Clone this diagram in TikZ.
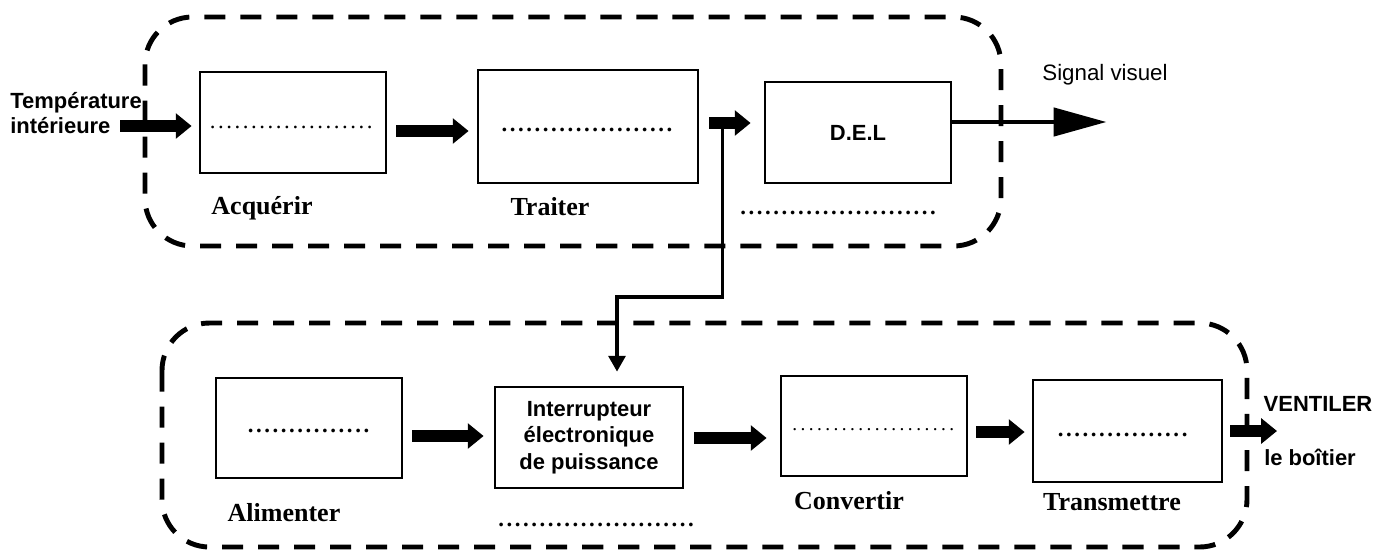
\documentclass[tikz,border=0pt]{standalone}
\usepackage{fontspec}
\setmainfont{Liberation Sans}
\newfontfamily\tnr{Liberation Serif}
\usetikzlibrary{arrows.meta,calc,positioning}
\newcommand\pointilles[1]{\hbox to #1{\leaders\hbox to 4.7pt{\hss.\hss}\hfill}}

\tikzset{
	bloc/.style={draw,line width=1.6pt,inner sep=0pt,minimum width=3.72cm,minimum height=2.02cm,
	font=\bfseries\fontsize{12.5}{15}\selectfont,align=center},
	flux/.style={line width=6.8pt,-{Triangle[length=9pt,width=14pt]}},
	cadre/.style={line width=2.8pt,dash pattern=on 12pt off 8.5pt,rounded corners=0.95cm},
	fonction/.style={font=\tnr\bfseries\fontsize{14.8}{17}\selectfont},
	pts/.style={font=\tnr\fontsize{13}{15}\selectfont,inner sep=0pt},
	etiq/.style={font=\bfseries\fontsize{12.5}{14.7}\selectfont,align=left,inner sep=0pt}
}

\begin{document}
\begin{tikzpicture}[x=0.02cm,y=-0.02cm]
	\useasboundingbox (0,0) rectangle (1391,549);
	% cadres
	\draw[cadre] (145,17) rectangle (1001,246);
	\draw[cadre] (162,323) rectangle (1247,547);
	% chaine du haut
	\node[bloc] (acq) at (293,122.5) {};
	\node[bloc,minimum width=4.4cm,minimum height=2.26cm] (trt) at (588,126.5) {};
	\node[bloc] (del) at (858,132.5) {D.E.L};
	\node[pts] (acqdots) at (293,127) {\pointilles{96pt}};
	\node[pts] (trtdots) at (589,130) {\bfseries\pointilles{101pt}};
	\node[pts] (deldots) at (840,213) {\bfseries\pointilles{115pt}};
	\node[fonction] (lacq) at (262,208) {Acquérir};
	\node[fonction] (ltrt) at (550,207) {Traiter};
	\node[etiq,anchor=west] (tint) at (10,113) {Température\\intérieure};
	\node[font=\fontsize{12.7}{15}\selectfont] (sig) at (1105,75) {Signal visuel};
	\coordinate (in) at (120,126);
	\draw[flux] (in) -- ($(acq.west)+(-7,3.5)$);
	\draw[flux] ($(acq.east)+(9,8.5)$) coordinate (a1) -- (a1 -| {$(trt.west)+(-8,0)$});
	\draw[flux] ($(trt.east)+(10,-3.5)$) coordinate (a2) -- (a2 -| {$(del.west)+(-13,0)$});
	\coordinate (br) at ($(a2)+(13,0)$);
	\draw[line width=2.3pt,-{Triangle[length=30pt,width=16pt]}] ($(del.east)+(0,-10.5)$) -- ++(154,0);
	% chaine du bas
	\node[bloc,minimum height=2cm] (ali) at (309,428) {};
	\node[bloc,minimum width=3.76cm] (itr) at (589,437.5) {Interrupteur\\électronique\\de puissance};
	\node[bloc,minimum height=2cm] (cnv) at (874,426) {};
	\node[bloc,minimum width=3.78cm,minimum height=2.04cm] (trm) at (1127.5,431) {};
	\node[pts] (alidots) at (309,431) {\bfseries\pointilles{71pt}};
	\node[pts] (itrdots) at (598,525) {\bfseries\pointilles{115pt}};
	\node[pts,font=\tnr\fontsize{11}{13}\selectfont] (cnvdots) at (875,430) {\pointilles{96pt}};
	\node[pts] (trmdots) at (1126,435) {\bfseries\pointilles{79pt}};
	\node[fonction] (lali) at (284,513) {Alimenter};
	\node[fonction] (lcnv) at (849,501) {Convertir};
	\node[fonction] (ltrm) at (1112,502) {Transmettre};
	\node[etiq] (vent) at (1318,404) {VENTILER};
	\node[etiq] (boit) at (1310,457) {le boîtier};
	\coordinate (out) at (1277,431);
	\draw[flux] ($(ali.east)+(9,8)$) coordinate (b1) -- (b1 -| {$(itr.west)+(-10,0)$});
	\draw[flux] ($(itr.east)+(10,0.5)$) coordinate (b2) -- (b2 -| {$(cnv.west)+(-13,0)$});
	\draw[flux] ($(cnv.east)+(8,6)$) coordinate (b3) -- (b3 -| {$(trm.west)+(-7,0)$});
	\draw[flux] ($(trm.east)+(7,0)$) -- (out);
	% commande de l'interrupteur
	\draw[line width=2pt,-{Triangle[length=9pt,width=9.6pt]}] (br) -- ++(0,174) -| ($(itr.north)+(28,-14)$);
\end{tikzpicture}
\end{document}
